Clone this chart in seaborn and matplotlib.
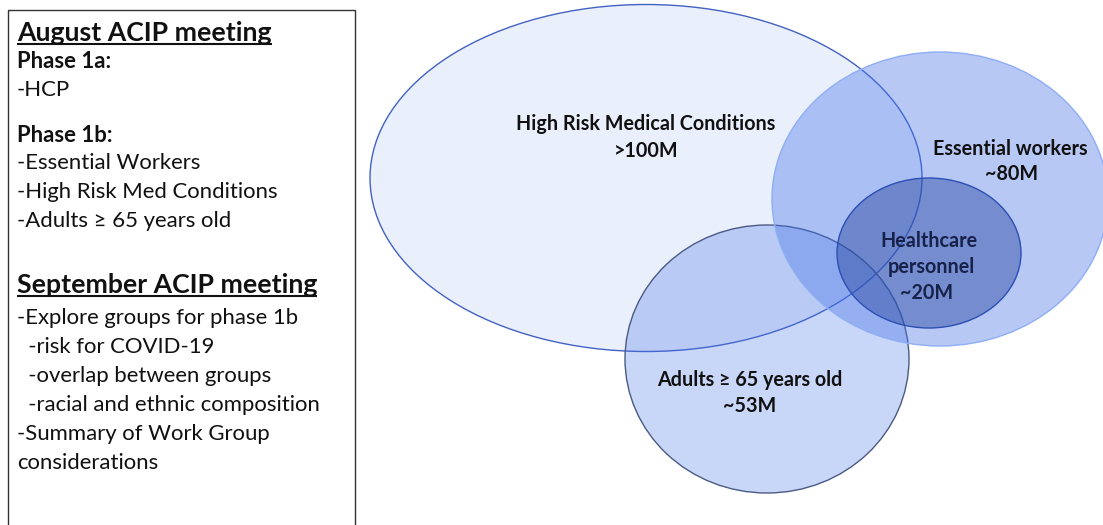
import matplotlib
matplotlib.use("Agg")
import matplotlib.pyplot as plt
from matplotlib.patches import Ellipse, Rectangle
import seaborn as sns

# ---------------- data ----------------
group_names = ["High Risk Medical Conditions", "Adults \u2265 65 years old",
               "Essential workers", "Healthcare\npersonnel"]
group_sizes = [">100M", "~53M", "~80M", "~20M"]

aug_title = "August ACIP meeting"
aug_phase1a = "Phase 1a:"
aug_phase1a_items = ["-HCP"]
aug_phase1b = "Phase 1b:"
aug_phase1b_items = ["-Essential Workers", "-High Risk Med Conditions",
                     "-Adults \u2265 65 years old"]
sep_title = "September ACIP meeting"
sep_items = ["-Explore groups for phase 1b", "  -risk for COVID-19",
             "  -overlap between groups", "  -racial and ethnic composition",
             "-Summary of Work Group", "considerations"]

# ---------------- layout / style (pixel space) ----------------
ell_center = [(646, 178), (767, 359), (940, 199), (929, 253)]
ell_size = [(552, 347), (284, 268), (336, 294), (184, 150)]
ell_face = [(68/255, 114/255, 230/255, 0.11),
            (68/255, 114/255, 230/255, 0.29),
            (68/255, 114/255, 230/255, 0.385),
            (40/255, 70/255, 160/255, 0.46)]
ell_edge = ["#4262c4", "#4b5a85", "#8eaef5", "#2b4fb5"]
label_pos = [(646, 124), (750, 380), (1010, 149), (929, 254)]
size_pos = [(646, 151), (750, 406), (1012, 174), (927, 293)]

sns.set_theme(style="white")
plt.rcParams['font.family'] = ['Lato', 'DejaVu Sans']

W, H = 1103, 525
fig = plt.figure(figsize=(W / 100, H / 100), dpi=100)
ax = fig.add_axes([0, 0, 1, 1])
ax.set_xlim(0, W)
ax.set_ylim(H, 0)
ax.axis("off")

# left text panel
ax.add_patch(Rectangle((8, 10), 347, 530, fill=False, edgecolor="#333333",
                       linewidth=1.0, clip_on=True))

txt_col = "#111111"
left_x = 17
body_fs = 15.9
title_fs = 19.2
lines = []
lines.append((aug_title, 33, "bold", title_fs, True))
lines.append((aug_phase1a, 62, "bold", body_fs, False))
for i, s in enumerate(aug_phase1a_items):
    lines.append((s, 90 + 29 * i, "normal", body_fs, False))
lines.append((aug_phase1b, 135, "bold", body_fs, False))
for i, s in enumerate(aug_phase1b_items):
    lines.append((s, 163 + 29 * i, "normal", body_fs, False))
lines.append((sep_title, 285, "bold", title_fs, True))
for i, s in enumerate(sep_items):
    lines.append((s, 318 + 29 * i, "normal", body_fs, False))

underlined = []
for s, y, w, fs, ul in lines:
    t = ax.text(left_x, y, s, fontsize=fs, fontweight=w, color=txt_col,
                va="center", ha="left")
    if ul:
        underlined.append((t, y))

# ellipses
for (cx, cy), (w, h), fc, ec in zip(ell_center, ell_size, ell_face, ell_edge):
    ax.add_patch(Ellipse((cx, cy), w, h, facecolor=fc, edgecolor="none"))
    ax.add_patch(Ellipse((cx, cy), w, h, facecolor="none", edgecolor=ec,
                         linewidth=1.0))

lab_fs = 14.2
lab_cols = ["#111111", "#111111", "#111111", "#16224a"]
for name, size, (lx, ly), (sx, sy), c in zip(group_names, group_sizes,
                                              label_pos, size_pos, lab_cols):
    if "\n" in name:
        a, b = name.split("\n")
        ax.text(lx, 241, a, fontsize=lab_fs, fontweight="bold", color=c,
                ha="center", va="center")
        ax.text(lx + 2, 267, b, fontsize=lab_fs, fontweight="bold", color=c,
                ha="center", va="center")
    else:
        ax.text(lx, ly, name, fontsize=lab_fs, fontweight="bold", color=c,
                ha="center", va="center")
    ax.text(sx, sy, size, fontsize=lab_fs, fontweight="bold", color=c,
            ha="center", va="center")

# underline titles
fig.canvas.draw()
r = fig.canvas.get_renderer()
inv = ax.transData.inverted()
for t, y in underlined:
    bb = t.get_window_extent(renderer=r)
    (x0, _), (x1, _) = inv.transform([(bb.x0, bb.y0), (bb.x1, bb.y0)])
    ax.plot([x0, x1], [y + 11, y + 11], color=txt_col, linewidth=1.5,
            solid_capstyle="butt")

fig.savefig("out.png", dpi=100)
